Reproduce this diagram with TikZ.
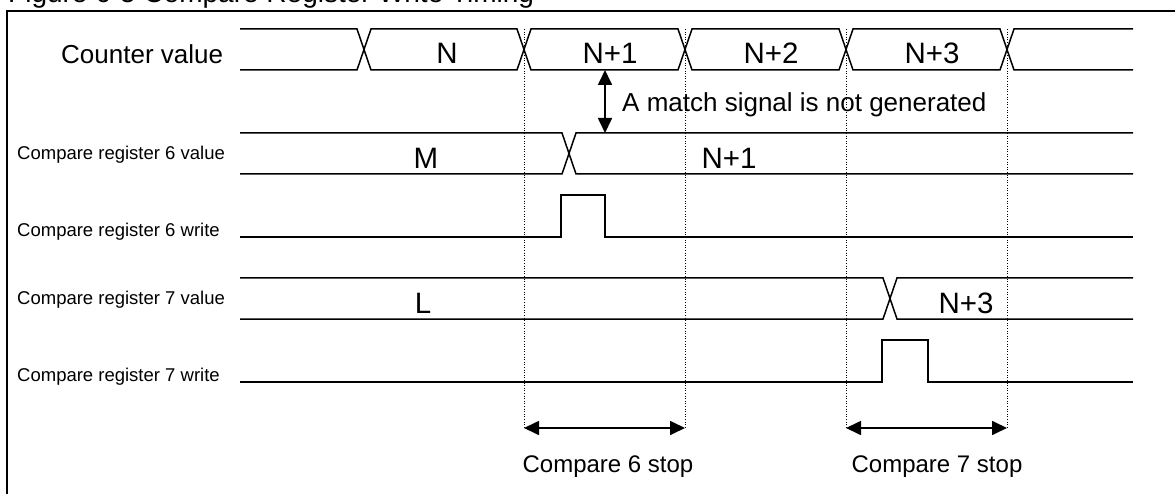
\documentclass[tikz,border=0pt]{standalone}
\usepackage{fontspec}
\setmainfont{Liberation Sans}
\usetikzlibrary{arrows.meta}
\begin{document}
\begin{tikzpicture}[x=1pt,y=-1pt,
  sig/.style={line width=1.5pt, line join=miter},
  frame/.style={line width=2pt, line join=miter},
  dotline/.style={line width=1pt, black, dash pattern=on 1pt off 1.6pt},
  dbl/.style={line width=1.7pt, {Triangle[length=15pt,width=14pt]}-{Triangle[length=15pt,width=14pt]}},
  lbl/.style={font=\fontsize{18.5}{20}\selectfont, anchor=base west, inner sep=0pt},
  val/.style={font=\fontsize{29.5}{32}\selectfont, anchor=base, inner sep=0pt},
  big/.style={font=\fontsize{26}{28}\selectfont, inner sep=0pt},
  note/.style={font=\fontsize{24}{26}\selectfont, anchor=base, inner sep=0pt}]
\useasboundingbox (0,0) rectangle (1175,494);
\clip (0,0) rectangle (1175,494);
% title (cut off by the top edge, as in the reference)
\node[overlay, font=\fontsize{28}{30}\selectfont, anchor=base west, inner sep=0pt] (title) at (8,2.5) {Figure 6-5 Compare Register Write Timing};
% frame
\draw[frame, overlay] (7,500) -- (7,11) -- (1180,11);
% labels
\node[big, anchor=base west] (lcnt) at (61,63.5) {Counter value};
\node[lbl] (l6v) at (17,160) {Compare register 6 value};
\node[lbl] (l6w) at (17,237) {Compare register 6 write};
\node[lbl] (l7v) at (17,304.5) {Compare register 7 value};
\node[lbl] (l7w) at (17,381) {Compare register 7 write};
% counter bus
\draw[sig] (240,29) -- (357,29) -- (371,70) -- (517,70) -- (531,29) -- (678,29) -- (692,70) -- (839,70) -- (853,29) -- (1000,29) -- (1014,70) -- (1133,70);
\draw[sig] (240,70) -- (357,70) -- (371,29) -- (517,29) -- (531,70) -- (678,70) -- (692,29) -- (839,29) -- (853,70) -- (1000,70) -- (1014,29) -- (1133,29);
\node[val] (vN) at (447,64) {N};
\node[val] (vN1) at (610,64) {N+1};
\node[val] (vN2) at (771,64) {N+2};
\node[val] (vN3) at (932,64) {N+3};
% compare register 6 value
\draw[sig] (240,133) -- (562,133) -- (576,174) -- (1133,174);
\draw[sig] (240,174) -- (562,174) -- (576,133) -- (1133,133);
\node[val] (vM) at (426,168.5) {M};
\node[val] (v6N1) at (729,168.5) {N+1};
% compare register 6 write
\draw[sig] (240,237) -- (561,237) -- (561,195) -- (605,195) -- (605,237) -- (1133,237);
% compare register 7 value
\draw[sig] (240,278) -- (883,278) -- (897,319) -- (1133,319);
\draw[sig] (240,319) -- (883,319) -- (897,278) -- (1133,278);
\node[val] (vL) at (423,313.5) {L};
\node[val] (v7N3) at (966,313.5) {N+3};
% compare register 7 write
\draw[sig] (240,382) -- (882,382) -- (882,340) -- (928,340) -- (928,382) -- (1133,382);
% dotted guides
\coordinate (d1t) at (524,29); \coordinate (d1b) at (524,428);
\coordinate (d2t) at (685,29); \coordinate (d2b) at (685,428);
\coordinate (d3t) at (846,29); \coordinate (d3b) at (846,428);
\coordinate (d4t) at (1007,29); \coordinate (d4b) at (1007,428);
\draw[dotline] (d1t) -- (d1b);
\draw[dotline] (d2t) -- (d2b);
\draw[dotline] (d3t) -- (d3b);
\draw[dotline] (d4t) -- (d4b);
% match arrow
\coordinate (m1) at (605,70);
\coordinate (m2) at (605,133);
\draw[dbl] (m1) -- (m2);
\node[big, anchor=base west] (match) at (622,112) {A match signal is not generated};
% stop arrows
\draw[dbl] (d1b) -- (d2b);
\draw[dbl] (d3b) -- (d4b);
\node[note] (s6) at (608,472) {Compare 6 stop};
\node[note] (s7) at (937,472) {Compare 7 stop};
\end{tikzpicture}
\end{document}
